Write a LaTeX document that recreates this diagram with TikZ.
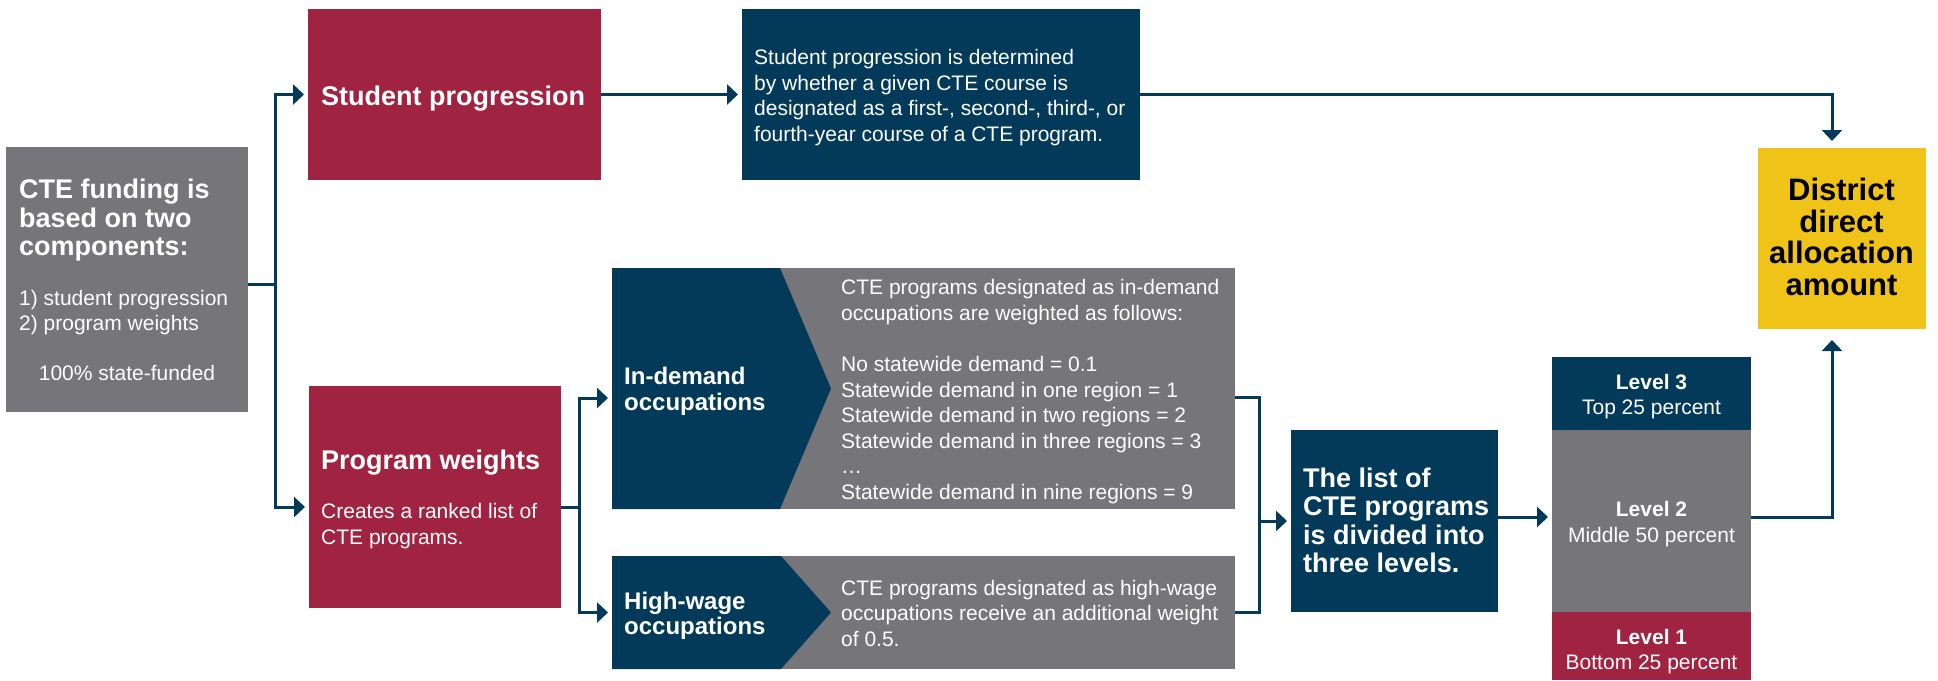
\documentclass[tikz,border=0pt]{standalone}
\usepackage{fontspec}
\setmainfont{Liberation Sans}
\usetikzlibrary{arrows.meta,calc}
\definecolor{cred}{HTML}{A02442}
\definecolor{cnavy}{HTML}{033A59}
\definecolor{cgray}{HTML}{76767A}
\definecolor{cyel}{HTML}{F0C319}
\begin{document}
\begin{tikzpicture}[x=1pt,y=-1pt,
  box/.style={rectangle, inner sep=0pt, outer sep=0pt, anchor=north west},
  conn/.style={draw=cnavy, line width=3pt},
  arr/.style={conn, -{Triangle[length=11pt,width=20pt]}, shorten >=4pt},
  txt/.style={inner sep=0pt, anchor=base west, text=white, font=\fontsize{21}{25}\selectfont},
  btxt/.style={txt, font=\fontsize{27}{28}\selectfont\bfseries},
  mtxt/.style={txt, font=\fontsize{24}{26}\selectfont\bfseries},
  ctxt/.style={txt, anchor=base},
  cbtxt/.style={ctxt, font=\fontsize{21}{25}\selectfont\bfseries},
  ytxt/.style={inner sep=0pt, anchor=base, text=black, font=\fontsize{31}{32}\selectfont\bfseries}
]
\useasboundingbox (0,0) rectangle (1938,680);

% boxes
\node[box, fill=cgray, minimum width=242pt, minimum height=265pt] (a) at (6,147) {};
\node[box, fill=cred, minimum width=293pt, minimum height=171pt] (sp) at (308,9) {};
\node[box, fill=cnavy, minimum width=398pt, minimum height=171pt] (desc) at (742,9) {};
\node[box, fill=cred, minimum width=252pt, minimum height=222pt] (pw) at (309,386) {};
\node[box, fill=cgray, minimum width=623pt, minimum height=241pt] (ind) at (612,268) {};
\node[box, fill=cgray, minimum width=623pt, minimum height=113pt] (hw) at (612,556) {};
\node[box, fill=cnavy, minimum width=207pt, minimum height=182pt] (list) at (1291,430) {};
\node[box, fill=cnavy, minimum width=199pt, minimum height=73pt] (lv3) at (1552,357) {};
\node[box, fill=cgray, minimum width=199pt, minimum height=182pt] (lv2) at (1552,430) {};
\node[box, fill=cred, minimum width=199pt, minimum height=68pt] (lv1) at (1552,612) {};
\node[box, fill=cyel, minimum width=168pt, minimum height=181pt] (yel) at (1758,148) {};

% chevrons
\fill[cnavy] (ind.north west) -- ([xshift=168pt]ind.north west) -- ([xshift=219pt]ind.west) -- ([xshift=168pt]ind.south west) -- (ind.south west) -- cycle;
\fill[cnavy] (hw.north west) -- ([xshift=169pt]hw.north west) -- ([xshift=219pt]hw.west) -- ([xshift=169pt]hw.south west) -- (hw.south west) -- cycle;

% texts
\node[btxt] (a1) at (19,198) {CTE funding is};
\node[btxt] (a2) at (19,227) {based on two};
\node[btxt] (a3) at (19,255) {components:};
\node[txt] (a4) at (19,305.5) {1) student progression};
\node[txt] (a5) at (19,330.5) {2) program weights};
\node[ctxt] (a6) at (127,380.5) {100\% state-funded};

\node[btxt] (sp1) at (321,105) {Student progression};

\node[txt] (d1) at (754,64.5) {Student progression is determined};
\node[txt] (d2) at (754,90.5) {by whether a given CTE course is};
\node[txt] (d3) at (754,115.5) {designated as a first-, second-, third-, or};
\node[txt] (d4) at (754,141.5) {fourth-year course of a CTE program.};

\node[btxt] (pw1) at (321,469) {Program weights};
\node[txt] (pw2) at (321,518.5) {Creates a ranked list of};
\node[txt] (pw3) at (321,544.5) {CTE programs.};

\node[mtxt] (i1) at (624,384.6) {In-demand};
\node[mtxt] (i2) at (624,410.6) {occupations};
\node[mtxt] (h1) at (624,609.6) {High-wage};
\node[mtxt] (h2) at (624,634.6) {occupations};

\node[txt] (g1) at (841,294.5) {CTE programs designated as in-demand};
\node[txt] (g2) at (841,320.5) {occupations are weighted as follows:};
\node[txt] (g3) at (841,371.5) {No statewide demand = 0.1};
\node[txt] (g4) at (841,397) {Statewide demand in one region = 1};
\node[txt] (g5) at (841,422.5) {Statewide demand in two regions = 2};
\node[txt] (g6) at (841,448) {Statewide demand in three regions = 3};
\node[txt] (g7) at (841,473.5) {…};
\node[txt] (g8) at (841,499) {Statewide demand in nine regions = 9};

\node[txt] (w1) at (841,595.5) {CTE programs designated as high-wage};
\node[txt] (w2) at (841,620.5) {occupations receive an additional weight};
\node[txt] (w3) at (841,646.5) {of 0.5.};

\node[btxt] (l1) at (1303,487) {The list of};
\node[btxt] (l2) at (1303,515.5) {CTE programs};
\node[btxt] (l3) at (1303,544) {is divided into};
\node[btxt] (l4) at (1303,572.5) {three levels.};

\node[cbtxt] (v31) at (1651.5,389) {Level 3};
\node[ctxt] (v32) at (1651.5,414) {Top 25 percent};
\node[cbtxt] (v21) at (1651.5,516) {Level 2};
\node[ctxt] (v22) at (1651.5,542) {Middle 50 percent};
\node[cbtxt] (v11) at (1651.5,644) {Level 1};
\node[ctxt] (v12) at (1651.5,669) {Bottom 25 percent};

\node[ytxt] (y1) at (1841.5,200) {District};
\node[ytxt] (y2) at (1841.5,232) {direct};
\node[ytxt] (y3) at (1841.5,263.5) {allocation};
\node[ytxt] (y4) at (1841.5,295.5) {amount};

% connectors
\coordinate (trunk) at (275,284);
\coordinate (br) at (579,507);
\coordinate (bk) at (1259,521);
\coordinate (col) at (1832,0);

\draw[conn] (a.east |- trunk) -- (trunk);
\draw[arr] (trunk) |- (sp.west);
\draw[arr] (trunk) |- (pw.west |- br);
\draw[arr] (sp.east) -- (desc.west);
\draw[arr, shorten >=7pt] (desc.east) -| (col |- yel.north);
\draw[conn] (pw.east |- br) -- (br);
\draw[arr] (br) |- (ind.west |- 0,398);
\draw[arr] (br) |- (hw.west);
\draw[conn] (ind.east |- 0,397) -| (bk);
\draw[conn] (hw.east) -| (bk);
\draw[arr] (bk) -- (list.west);
\draw[arr] (list.east |- 0,517) -- (lv2.west |- 0,517);
\draw[arr, shorten >=11pt] (lv2.east |- 0,517) -| (col |- yel.south);
\end{tikzpicture}
\end{document}
